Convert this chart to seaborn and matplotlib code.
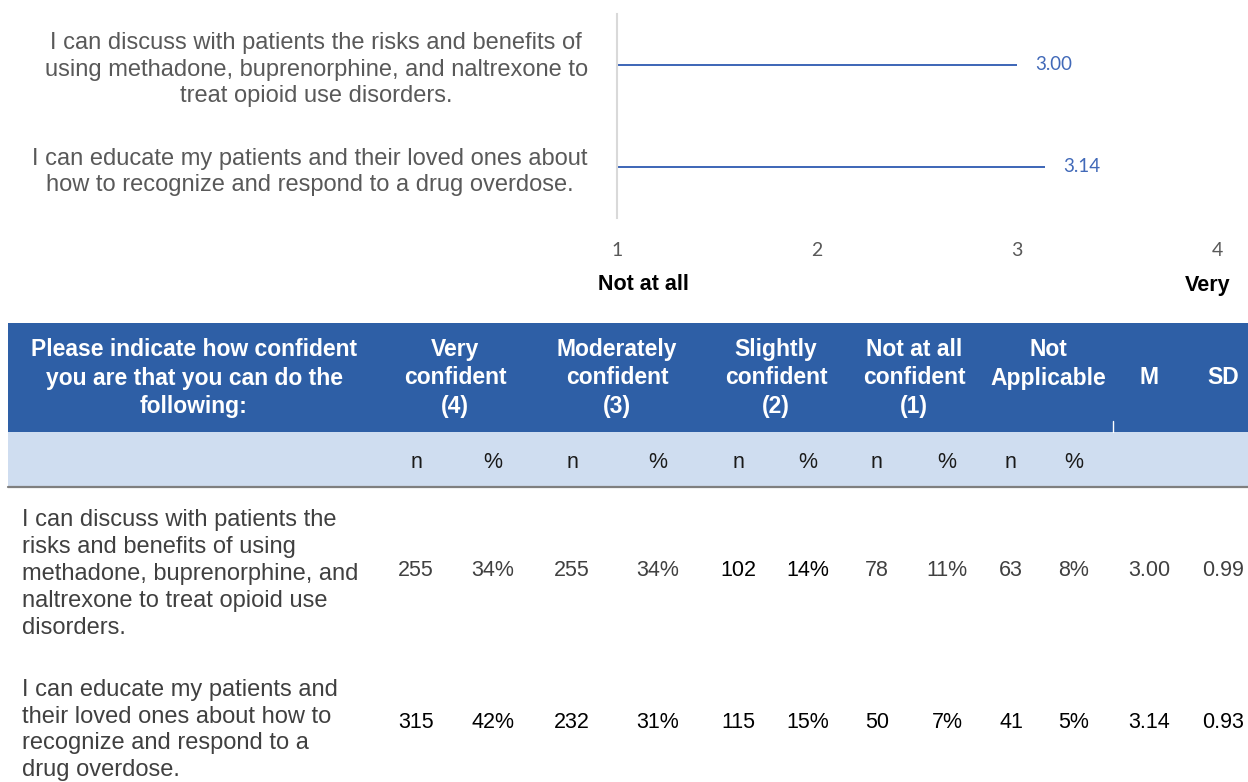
import matplotlib
matplotlib.use("Agg")
import matplotlib.pyplot as plt
import seaborn as sns
import pandas as pd
from matplotlib.patches import Rectangle

# ---------------- data ----------------
statements_chart = [
    "I can discuss with patients the risks and benefits of\nusing methadone, buprenorphine, and naltrexone to\ntreat opioid use disorders.",
    "I can educate my patients and their loved ones about\nhow to recognize and respond to a drug overdose.",
]
statements_table = [
    "I can discuss with patients the\nrisks and benefits of using\nmethadone, buprenorphine, and\nnaltrexone to treat opioid use\ndisorders.",
    "I can educate my patients and\ntheir loved ones about how to\nrecognize and respond to a\ndrug overdose.",
]
means = [3.00, 3.14]
sds = [0.99, 0.93]
very_n = [255, 315]
very_pct = [34, 42]
moderately_n = [255, 232]
moderately_pct = [34, 31]
slightly_n = [102, 115]
slightly_pct = [14, 15]
notatall_n = [78, 50]
notatall_pct = [11, 7]
na_n = [63, 41]
na_pct = [8, 5]
x_ticks = [1, 2, 3, 4]
scale_low, scale_high = "Not at all", "Very"
table_title = "Please indicate how confident\nyou are that you can do the\nfollowing:"
group_headers = ["Very\nconfident\n(4)", "Moderately\nconfident\n(3)", "Slightly\nconfident\n(2)",
                 "Not at all\nconfident\n(1)", "Not\nApplicable", "M", "SD"]

# ---------------- style ----------------
sns.set_theme(style="white")
plt.rcParams["font.family"] = ["Liberation Sans", "DejaVu Sans"]

W, H = 1248, 782
fig = plt.figure(figsize=(W / 100, H / 100), dpi=100)

LINE_BLUE = "#4169B8"
LABEL_GREY = "#595959"

# ---------------- top chart ----------------
ax = fig.add_axes([617 / W, 1 - 218 / H, 600 / W, 204 / H])
df = pd.DataFrame({"statement": statements_chart, "mean": means})
sns.barplot(data=df, x="mean", y="statement", orient="h", width=0.028,
            color=LINE_BLUE, saturation=1, linewidth=0, edgecolor=LINE_BLUE, ax=ax)
ax.set_xlim(1, 4)
ax.set_ylim(1.5, -0.5)
ax.set_xticks(x_ticks)
ax.set_xticklabels([str(t) for t in x_ticks], fontfamily="Lato", fontsize=14, color=LABEL_GREY)
ax.tick_params(axis="x", length=0, pad=17)
ax.tick_params(axis="y", length=0, pad=21)
for lab in ax.get_yticklabels():
    lab.set_fontsize(17)
    lab.set_color(LABEL_GREY)
    lab.set_multialignment("center")
    lab.set_linespacing(1.27)
ax.set_xlabel("")
ax.set_ylabel("")
for s in ["top", "right", "bottom"]:
    ax.spines[s].set_visible(False)
ax.spines["left"].set_color("#D9D9D9")
ax.spines["left"].set_linewidth(1.5)
ax.grid(False)
for i, m in enumerate(means):
    ax.annotate(f"{m:.2f}", xy=(m, i), xytext=(13, 0), textcoords="offset points",
                ha="left", va="center", fontsize=13.5, color=LINE_BLUE, fontfamily="Lato")

# overlay axes in pixel coordinates for annotation text and the table
tx = fig.add_axes([0, 0, 1, 1])
tx.set_xlim(0, W)
tx.set_ylim(H, 0)
tx.axis("off")

tx.text(643, 285, scale_low, ha="center", va="center", fontsize=15.5, fontweight="bold", color="black")
tx.text(1230, 285, scale_high, ha="right", va="center", fontsize=15.5, fontweight="bold", color="black")

# ---------------- table ----------------
DARK = "#2E5FA6"
LIGHT = "#CFDDF0"
tx.add_patch(Rectangle((8, 323), W - 8, 109, facecolor=DARK, edgecolor="none"))
tx.add_patch(Rectangle((8, 432), W - 8, 55, facecolor=LIGHT, edgecolor="none"))
tx.plot([8, W], [487, 487], color="#7F7F7F", lw=1.6)
tx.plot([1113, 1113], [421, 432], color="white", lw=1)

HDR_LS = 1.3
tx.text(194, 378, table_title, ha="center", va="center", fontsize=16.5, fontweight="bold",
        color="white", linespacing=HDR_LS)
group_x = [455, 617, 776, 914, 1048, 1149, 1223]
for gx, gh in zip(group_x, group_headers):
    nlines = gh.count("\n") + 1
    y = 378 if nlines != 2 else 364
    tx.text(gx, y, gh, ha="center", va="center", fontsize=16.5, fontweight="bold",
            color="white", linespacing=HDR_LS)

sub_x = [416, 493, 572, 658, 738, 808, 877, 947, 1011, 1074]
for i, sx in enumerate(sub_x):
    tx.text(sx, 462, "n" if i % 2 == 0 else "%", ha="center", va="center",
            fontsize=15.5, color="#1a1a1a")

row_label_y = [574, 730]
row_num_y = [570, 722]
for r in range(2):
    tx.text(22, row_label_y[r], statements_table[r], ha="left", va="center",
            fontsize=17, color="#404040", linespacing=1.28)
    vals = [str(very_n[r]), f"{very_pct[r]}%", str(moderately_n[r]), f"{moderately_pct[r]}%",
            str(slightly_n[r]), f"{slightly_pct[r]}%", str(notatall_n[r]), f"{notatall_pct[r]}%",
            str(na_n[r]), f"{na_pct[r]}%", f"{means[r]:.2f}", f"{sds[r]:.2f}"]
    xs = sub_x + [1149, 1223]
    for j, (vx, v) in enumerate(zip(xs, vals)):
        if r == 0:
            col = "#000000" if j in (4, 5) else "#404040"
        else:
            col = "#000000"
        tx.text(vx, row_num_y[r], v, ha="center", va="center", fontsize=15.5, color=col)

fig.savefig("out.png", dpi=100)
